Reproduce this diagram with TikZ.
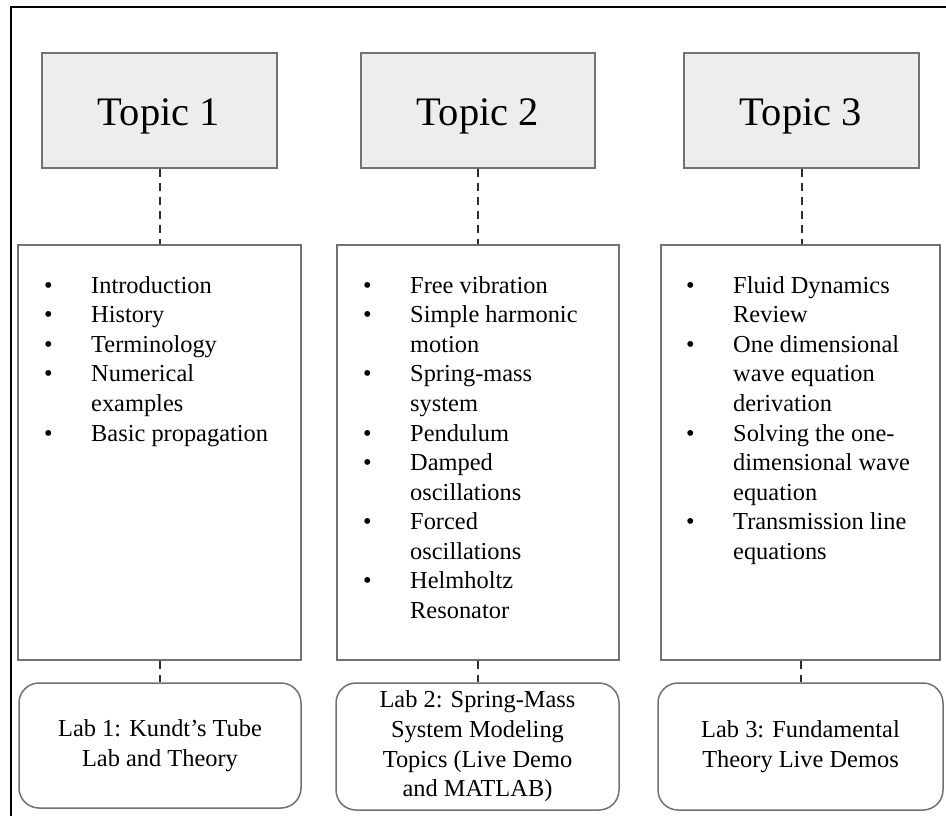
\documentclass[tikz,border=0pt]{standalone}
\usepackage{fontspec}
\setmainfont{Liberation Serif}
\usepackage{array}
\definecolor{boxgray}{HTML}{717171}
\definecolor{topicfill}{HTML}{EDEDED}
\definecolor{linkgray}{HTML}{2E2E2E}
\newcommand{\bodyfont}{\fontsize{24.4}{29.6}\selectfont}
\newenvironment{topiclist}{\bodyfont\begin{tabular}[t]{@{}p{47pt}@{}l@{}}}{\end{tabular}}
\begin{document}
\begin{tikzpicture}[x=1pt,y=-1pt,
  outerframe/.style={line width=2.6pt, black},
  topicbox/.style={draw=boxgray, line width=1.5pt, fill=topicfill, inner sep=0pt, minimum height=115pt},
  contentbox/.style={draw=boxgray, line width=1.5pt, fill=white, inner sep=0pt, minimum height=415pt},
  labbox/.style={draw=boxgray, line width=1.5pt, rounded corners=20pt, inner sep=0pt, align=center, font=\bodyfont},
  title/.style={anchor=base, inner sep=0pt, font=\fontsize{40.5}{48}\selectfont},
  itemlist/.style={anchor=base west, inner sep=0pt},
  link/.style={draw=linkgray, line width=2pt, dash pattern=on 8pt off 6pt}
]
\useasboundingbox (0,0) rectangle (946,816);
\fill[white] (0,0) rectangle (946,816);

% page frame
\draw[outerframe] (11,816) -- (11,7) -- (946,7);

% topic headers
\node[topicbox, minimum width=235pt] (topic1) at (159.5,110.5) {};
\node[topicbox, minimum width=234pt] (topic2) at (478,110.5) {};
\node[topicbox, minimum width=235pt] (topic3) at (801.5,110.5) {};
\node[title] (title1) at (159,125) {Topic 1};
\node[title] (title2) at (478,125) {Topic 2};
\node[title] (title3) at (801,125) {Topic 3};

% content boxes
\node[contentbox, minimum width=283pt] (content1) at (159.5,452.5) {};
\node[contentbox, minimum width=282pt] (content2) at (478,452.5) {};
\node[contentbox, minimum width=279pt] (content3) at (800.5,452.5) {};

\node[itemlist] (list1) at (44,293) {\begin{topiclist}
• & Introduction \\
• & History \\
• & Terminology \\
• & Numerical \\
  & examples \\
• & Basic propagation
\end{topiclist}};

\node[itemlist] (list2) at (363,293) {\begin{topiclist}
• & Free vibration \\
• & Simple harmonic \\
  & motion \\
• & Spring-mass \\
  & system \\
• & Pendulum \\
• & Damped \\
  & oscillations \\
• & Forced \\
  & oscillations \\
• & Helmholtz \\
  & Resonator
\end{topiclist}};

\node[itemlist] (list3) at (686,293) {\begin{topiclist}
• & Fluid Dynamics \\
  & Review \\
• & One dimensional \\
  & wave equation \\
  & derivation \\
• & Solving the one- \\
  & dimensional wave \\
  & equation \\
• & Transmission line \\
  & equations
\end{topiclist}};

% lab boxes
\node[labbox, minimum width=282pt, minimum height=125pt] (lab1) at (160,745.5)
  {Lab 1: Kundt’s Tube\\Lab and Theory};
\node[labbox, minimum width=283pt, minimum height=127pt] (lab2) at (477.5,746.5)
  {Lab 2: Spring-Mass\\System Modeling\\Topics (Live Demo\\and MATLAB)};
\node[labbox, minimum width=285pt, minimum height=127pt] (lab3) at (800.5,746.5)
  {Lab 3: Fundamental\\Theory Live Demos};

% dashed links
\foreach \i in {1,2,3} {
  \draw[link] (topic\i.south) -- (topic\i.south |- content\i.north);
  \draw[link] (content\i.south) -- (content\i.south |- lab\i.north);
}
\end{tikzpicture}
\end{document}
